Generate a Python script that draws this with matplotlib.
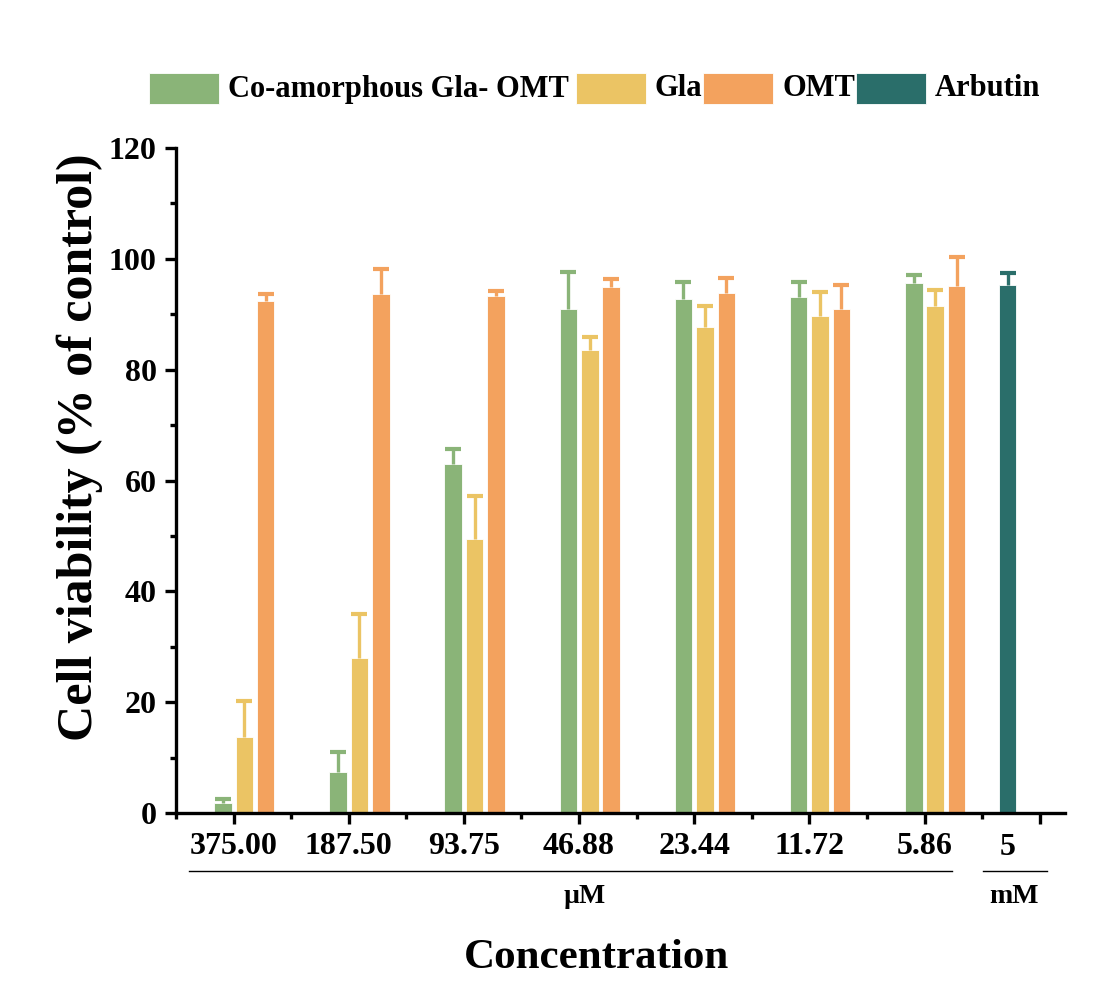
import numpy as np
import matplotlib
matplotlib.use("Agg")
import matplotlib.pyplot as plt
import matplotlib.transforms as mtransforms
from matplotlib.patches import Rectangle
from matplotlib.lines import Line2D

plt.rcParams["font.family"] = ["Liberation Serif", "DejaVu Serif"]
plt.rcParams["font.weight"] = "bold"

# Cell viability (% of control) with upper SD error bars
conc_labels = ["375.00", "187.50", "93.75", "46.88", "23.44", "11.72", "5.86", "5"]
coamorph = [1.8, 7.4, 63.0, 90.9, 92.8, 93.2, 95.7]
coamorph_sd = [0.8, 3.6, 2.7, 6.7, 3.0, 2.7, 1.4]
gla = [13.7, 28.0, 49.4, 83.5, 87.7, 89.7, 91.5]
gla_sd = [6.5, 7.9, 7.8, 2.4, 3.8, 4.3, 2.8]
omt = [92.4, 93.6, 93.3, 94.9, 93.8, 90.9, 95.1]
omt_sd = [1.2, 4.6, 0.9, 1.5, 2.7, 4.3, 5.2]
arbutin = [95.3]
arbutin_sd = [2.1]

GREEN = "#8AB478"
YELLOW = "#EBC464"
ORANGE = "#F3A25E"
TEAL = "#2A6E6A"

fig = plt.figure(figsize=(11.04, 9.96), dpi=100, facecolor="white")
ax = fig.add_axes([0.1594, 0.1837, 0.8053, 0.6677])

n = len(coamorph)
x = np.arange(n)
slot = 0.186
width = 0.152

# four slots per group: Arbutin, co-amorphous, Gla, OMT
series = [
    (x - 0.5 * slot, coamorph, coamorph_sd, GREEN),
    (x + 0.5 * slot, gla, gla_sd, YELLOW),
    (x + 1.5 * slot, omt, omt_sd, ORANGE),
    (np.array([n]) - 1.5 * slot, arbutin, arbutin_sd, TEAL),
]
for xs, vals, sd, col in series:
    vals = np.asarray(vals)
    tops = vals + np.asarray(sd)
    ax.bar(xs, vals, width=width, color=col, edgecolor="white", linewidth=0.6, zorder=2)
    # upper half of the error bar only, with a cap
    ax.vlines(xs, vals, tops, colors=col, linewidth=2.4, zorder=3)
    ax.plot(xs, tops, linestyle="none", marker="_", markersize=11,
            markeredgewidth=3, color=col, zorder=3)

for side in ["top", "right"]:
    ax.spines[side].set_visible(False)
for side in ["left", "bottom"]:
    ax.spines[side].set_linewidth(2.4)

ax.set_yticks(np.arange(0, 121, 20))
ax.set_yticks(np.arange(10, 120, 20), minor=True)
ax.set_xticks(np.arange(n + 1))
ax.set_xticks(np.arange(n + 1) - 0.5, minor=True)
ax.set_xticklabels(conc_labels[:-1] + [""])
ax.set_xlim(-0.5, 7.22)
ax.set_ylim(0, 120)
ax.tick_params(axis="both", which="major", direction="out", length=8, width=2.4,
               labelsize=23, pad=6)
ax.tick_params(axis="both", which="minor", direction="out", length=4.5, width=2.4)
for lab in ax.get_xticklabels() + ax.get_yticklabels():
    lab.set_fontweight("bold")

# the mM label sits under the Arbutin bar rather than the group tick
trans = mtransforms.blended_transform_factory(ax.transData, ax.transAxes)
ax.text(n - 1.5 * slot, -0.052, conc_labels[-1], transform=trans, ha="center", va="center",
        fontsize=23, fontweight="bold")

# unit underlines and unit labels
ax.add_line(Line2D([-0.39, 6.236], [-0.087, -0.087], transform=trans, color="black",
                   linewidth=1.0, clip_on=False))
ax.add_line(Line2D([6.505, 7.06], [-0.087, -0.087], transform=trans, color="black",
                   linewidth=1.0, clip_on=False))
ax.set_xlim(-0.5, 7.22)
ax.text(3.05, -0.126, "µM", transform=trans, ha="center", va="center",
        fontsize=20, fontweight="bold")
ax.text(6.78, -0.126, "mM", transform=trans, ha="center", va="center",
        fontsize=20, fontweight="bold")

fig.text(597 / 1104, 1 - 958 / 996, "Concentration", ha="center", va="center",
         fontsize=31, fontweight="bold")
fig.text(80 / 1104, 1 - 447 / 996, "Cell viability (% of control)", ha="center",
         va="center", rotation=90, fontsize=36, fontweight="bold")

# legend row along the top
legend_items = [
    ("Co-amorphous Gla- OMT", GREEN, 149, 228),
    ("Gla", YELLOW, 576, 655),
    ("OMT", ORANGE, 703, 782),
    ("Arbutin", TEAL, 856, 935),
]
W, H = 1104, 996
for label, col, px, tx in legend_items:
    fig.patches.append(Rectangle((px / W, 1 - 104 / H), 70 / W, 31 / H,
                                 transform=fig.transFigure, facecolor=col,
                                 edgecolor="white", linewidth=0.6))
    fig.text(tx / W, 1 - 89 / H, label, ha="left", va="center",
             fontsize=22, fontweight="bold")

fig.savefig("out.png", dpi=100, facecolor="white")
